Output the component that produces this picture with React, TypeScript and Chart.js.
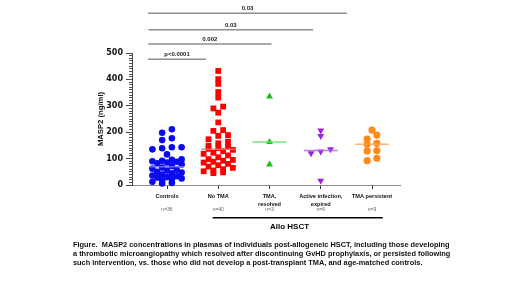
import { useEffect, useRef } from 'react';
import { Chart, registerables } from 'chart.js';

Chart.register(...registerables);

// ---------- data ----------
const categories: string[][] = [
  ['Controls'],
  ['No TMA'],
  ['TMA,', 'resolved'],
  ['Active infection,', 'expired'],
  ['TMA persistent'],
];
const groupSizes = ['n=36', 'n=40', 'n=3', 'n=6', 'n=9'];

const controls = [
  211, 198, 177, 170, 143, 143, 139, 135, 116, 97, 95, 92, 90, 88, 85, 82, 78, 72,
  66, 62, 58, 55, 50, 47, 44, 40, 36, 33, 30, 28, 25, 22, 18, 12, 8, 6,
];
const noTMA = [
  432, 401, 383, 352, 331, 297, 290, 274, 237, 208, 205, 189, 186, 173, 164, 158, 148,
  145, 140, 137, 133, 128, 122, 118, 112, 105, 98, 95, 92, 88, 85, 80, 75, 70, 65, 60,
  55, 52, 48, 45,
];
const tmaResolved = [335, 163, 78];
const activeInfection = [206, 186, 135, 127, 120, 16];
const tmaPersistent = [208, 189, 174, 158, 154, 130, 129, 101, 92];

const yMin = 0;
const yMax = 500;
const yMajorStep = 100;
const yMinorStep = 10;

const sigLabels = ['p<0.0001', '0.002', '0.03', '0.03'];
const sigFrom = [0.63, 0.63, 0.64, 0.63];
const sigTo = [1.76, 3.04, 3.85, 4.51];
const sigLevel = [476, 534, 588, 651];

const groupLabel = 'Allo HSCT';
const groupFrom = 1.89;
const groupTo = 5.21;
const groupLabelAt = 3.39;

const caption = [
  'Figure.  MASP2 concentrations in plasmas of individuals post-allogeneic HSCT, including those developing',
  'a thrombotic microangiopathy which resolved after discontinuing GvHD prophylaxis, or persisted following',
  'such intervention, vs. those who did not develop a post-transplant TMA, and age-matched controls.',
];

// ---------- helpers ----------
function median(v: number[]) {
  const s = [...v].sort((a, b) => a - b);
  const n = s.length;
  return n % 2 ? s[(n - 1) / 2] : (s[n / 2 - 1] + s[n / 2]) / 2;
}

// GraphPad-like scatter layout: points of similar value share a row, centred on the
// category; row capacity alternates 4 / 3 so dense rows interleave.
function swarm(values: number[], center: number, thresh = 17, step = 0.19) {
  const order = values.map((_, i) => i).sort((a, b) => values[b] - values[a]);
  const rows: number[][] = [];
  let cur: number[] = [];
  for (const i of order) {
    const cap = rows.length % 2 ? 3 : 4;
    if (cur.length && (values[cur[0]] - values[i] > thresh || cur.length >= cap)) {
      rows.push(cur);
      cur = [];
    }
    cur.push(i);
  }
  if (cur.length) rows.push(cur);
  const pts: { x: number; y: number }[] = [];
  for (const row of rows) {
    const r = [...row].sort((a, b) => values[a] - values[b]);
    r.forEach((i, k) => pts.push({ x: center + (k - (r.length - 1) / 2) * step, y: values[i] }));
  }
  return pts;
}

const groups = [
  { values: controls, color: '#0a0af0', line: 'rgba(120,120,225,0.85)', style: 'circle', radius: 3.3, rot: 0 },
  { values: noTMA, color: '#ff0000', line: 'rgba(225,120,120,0.85)', style: 'rect', radius: 4.1, rot: 0 },
  { values: tmaResolved, color: '#19c019', line: 'rgba(100,220,100,0.85)', style: 'triangle', radius: 4, rot: 0 },
  { values: activeInfection, color: '#a020e0', line: 'rgba(185,100,235,0.85)', style: 'triangle', radius: 4, rot: 180 },
  { values: tmaPersistent, color: '#ff8a1a', line: 'rgba(255,170,90,0.9)', style: 'circle', radius: 3.6, rot: 0 },
];

const FONT = "'Liberation Sans', Arial, sans-serif";
const WIDE = "'DejaVu Sans', 'Liberation Sans', sans-serif";

const annotations = {
  id: 'annotations',
  afterDraw(chart: any) {
    const { ctx, scales } = chart;
    const x = scales.x;
    const y = scales.y;
    ctx.save();
    // significance bars
    ctx.strokeStyle = '#8e8e8e';
    ctx.lineWidth = 1.5;
    ctx.fillStyle = '#222';
    ctx.font = `bold 6px ${FONT}`;
    ctx.textAlign = 'center';
    ctx.textBaseline = 'middle';
    sigLabels.forEach((lab, i) => {
      const x1 = x.getPixelForValue(sigFrom[i]);
      const x2 = x.getPixelForValue(sigTo[i]);
      const yy = y.getPixelForValue(sigLevel[i]);
      ctx.beginPath();
      ctx.moveTo(x1, yy);
      ctx.lineTo(x2, yy);
      ctx.stroke();
      ctx.fillText(lab, (x1 + x2) / 2, yy - 4.5);
    });
    // Allo HSCT bracket
    const xn = scales.xn;
    const gy = xn.top + 10.7;
    ctx.strokeStyle = '#000';
    ctx.lineWidth = 1.5;
    ctx.beginPath();
    ctx.moveTo(x.getPixelForValue(groupFrom), gy);
    ctx.lineTo(x.getPixelForValue(groupTo), gy);
    ctx.stroke();
    ctx.fillStyle = '#000';
    ctx.font = `bold 8px ${FONT}`;
    ctx.fillText(groupLabel, x.getPixelForValue(groupLabelAt), gy + 9);
    ctx.restore();
  },
};

export default function App() {
  const ref = useRef<HTMLCanvasElement>(null);
  useEffect(() => {
    if (!ref.current) return;
    const datasets: any[] = [];
    groups.forEach((g, gi) => {
      const c = gi + 1;
      const m = median(g.values);
      datasets.push({
        type: 'line',
        data: [
          { x: c - 0.33, y: m },
          { x: c + 0.33, y: m },
        ],
        borderColor: g.line,
        borderWidth: 1.5,
        pointRadius: 0,
        showLine: true,
        clip: false,
      });
    });
    groups.forEach((g, gi) => {
      datasets.push({
        type: 'scatter',
        data: swarm(g.values, gi + 1),
        backgroundColor: g.color,
        borderColor: g.color,
        borderWidth: 0,
        pointStyle: g.style,
        pointRadius: g.radius,
        pointRotation: g.rot,
        clip: false,
      });
    });
    const xRange = { min: 0.317, max: 5.546 };
    const chart = new Chart(ref.current, {
      type: 'scatter',
      data: { datasets },
      plugins: [annotations],
      options: {
        animation: false,
        responsive: false,
        events: [],
        layout: { padding: { left: 73, right: 0, top: 53, bottom: 25 } },
        plugins: {
          legend: { display: false },
          tooltip: { enabled: false },
          title: {
            display: true,
            position: 'bottom',
            align: 'start',
            text: caption,
            color: '#111',
            font: { family: FONT, size: 7.4, weight: 'bold', lineHeight: 9 / 7.4 },
            padding: 0,
          },
        },
        scales: {
          x: {
            type: 'linear',
            position: 'bottom',
            weight: 0,
            ...xRange,
            afterBuildTicks: (s: any) => {
              s.ticks = categories.map((_, i) => ({ value: i + 1 }));
            },
            afterFit: (s: any) => {
              s.height = 22;
            },
            ticks: {
              autoSkip: false,
              maxRotation: 0,
              padding: 4,
              color: '#111',
              font: { family: FONT, size: 5.6, weight: 'bold', lineHeight: 1.36 },
              callback: (v: any) => categories[Math.round(v) - 1] ?? '',
            },
            grid: { display: true, drawOnChartArea: false, tickLength: 4, color: '#333', tickWidth: 1 },
            border: { display: true, color: '#8a8a8a', width: 1 },
          },
          xn: {
            type: 'linear',
            position: 'bottom',
            weight: 1,
            ...xRange,
            afterBuildTicks: (s: any) => {
              s.ticks = groupSizes.map((_, i) => ({ value: i + 1 }));
            },
            afterFit: (s: any) => {
              s.height = 33;
            },
            ticks: {
              autoSkip: false,
              maxRotation: 0,
              padding: 0,
              color: '#666',
              font: { family: FONT, size: 5, lineHeight: 1.1 },
              callback: (v: any) => groupSizes[Math.round(v) - 1] ?? '',
            },
            grid: { display: false, drawTicks: false, tickLength: 0 },
            border: { display: false },
          },
          y: {
            type: 'linear',
            position: 'left',
            weight: 1,
            min: yMin,
            max: yMax,
            afterFit: (s: any) => {
              s.width = 59;
            },
            ticks: {
              stepSize: yMajorStep,
              padding: 3,
              color: '#111',
              font: { family: WIDE, size: 8, weight: 'bold' },
            },
            grid: { display: true, drawOnChartArea: false, tickLength: 6, color: '#444', tickWidth: 1 },
            border: { display: true, color: '#444', width: 1 },
            title: {
              display: true,
              text: 'MASP2 (ng/ml)',
              color: '#111',
              font: { family: FONT, size: 7.7, weight: 'bold', lineHeight: 1.2 },
              padding: { top: 23, bottom: 0 },
            },
          },
          y2: {
            type: 'linear',
            position: 'left',
            weight: 0,
            min: yMin,
            max: yMax,
            afterBuildTicks: (s: any) => {
              const t = [];
              for (let v = yMin; v <= yMax; v += yMinorStep) t.push({ value: v });
              s.ticks = t;
            },
            afterFit: (s: any) => {
              s.width = 0;
            },
            ticks: { display: false },
            grid: { display: true, drawOnChartArea: false, tickLength: 3, color: '#555', tickWidth: 1 },
            border: { display: false },
          },
          yr: {
            type: 'linear',
            position: 'right',
            min: yMin,
            max: yMax,
            afterFit: (s: any) => {
              s.width = 120;
            },
            ticks: { display: false },
            grid: { display: false },
            border: { display: false },
          },
        },
      } as any,
    });
    return () => chart.destroy();
  }, []);
  return (
    <div style={{ position: 'fixed', left: 0, top: 0, width: 520, height: 292, background: '#fff' }}>
      <canvas ref={ref} width={520} height={292} style={{ display: 'block', width: 520, height: 292 }} />
    </div>
  );
}
